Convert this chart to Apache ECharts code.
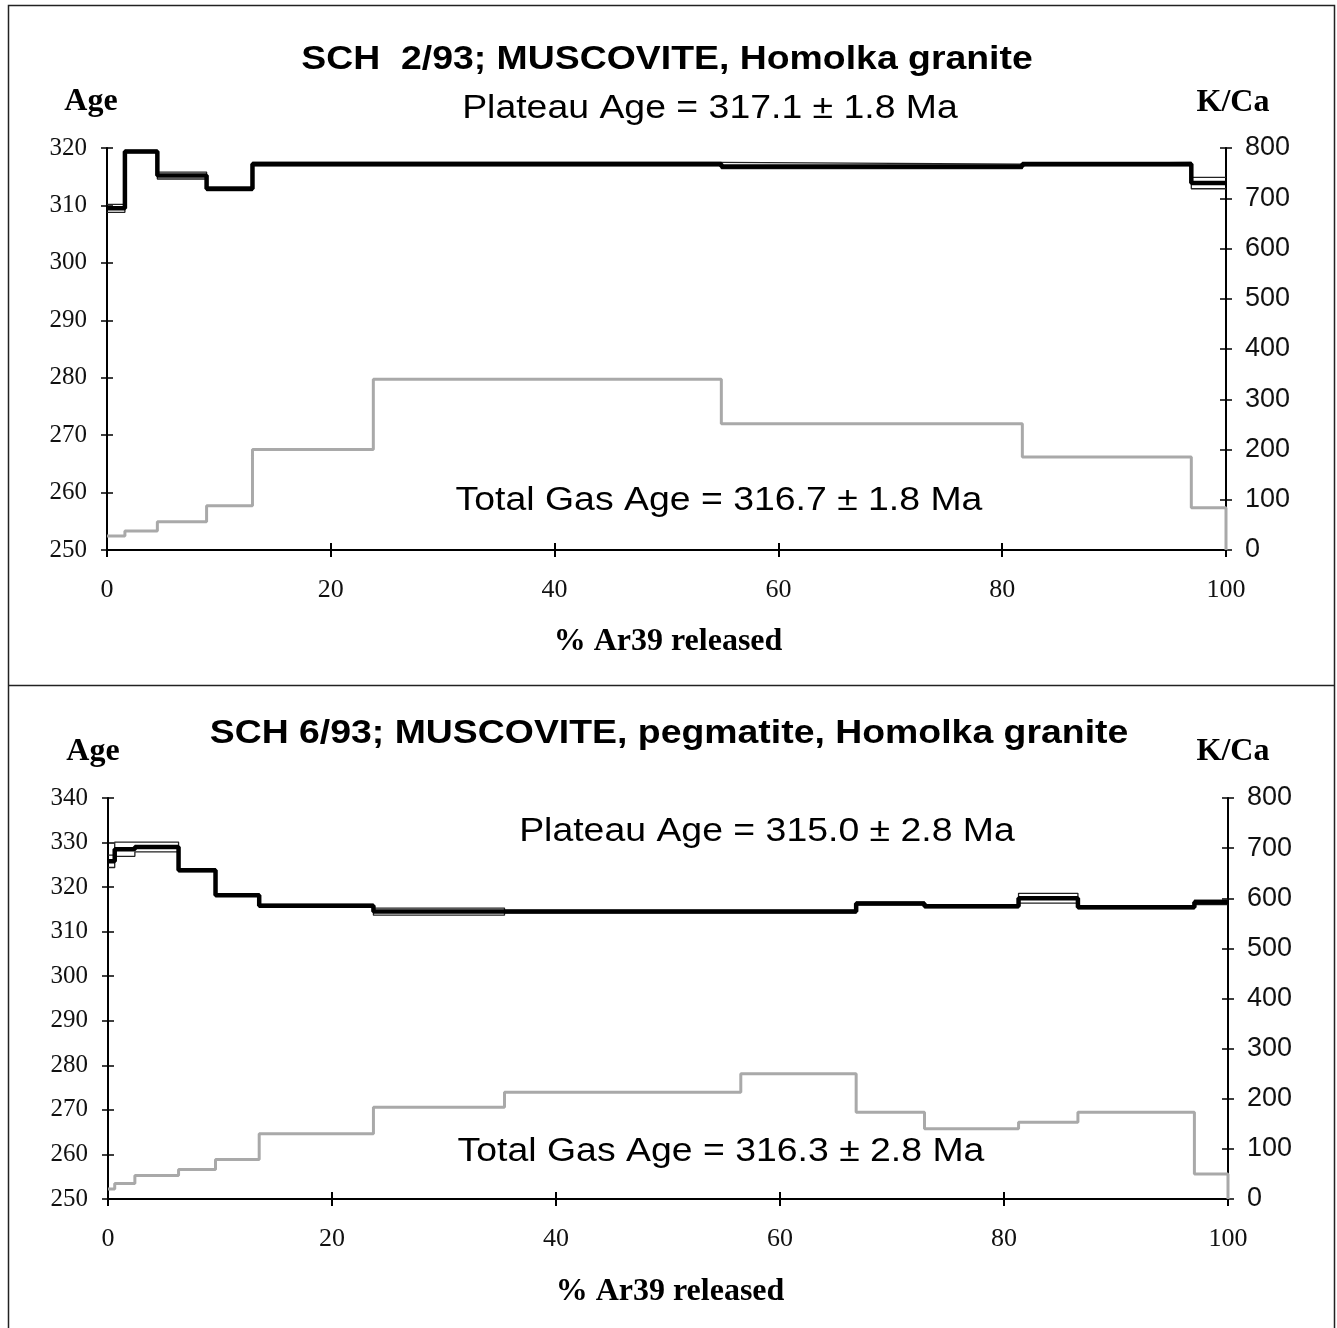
<!DOCTYPE html>
<html>
<head>
<meta charset="utf-8">
<script src="https://cdn.jsdelivr.net/npm/echarts@6/dist/echarts.min.js"></script>
<style>
  html, body { margin: 0; padding: 0; background: #fff; }
  #main { width: 1337px; height: 1328px; }
</style>
</head>
<body>
<div id="main"></div>
<script>
// SCH 2/93 - step boundaries (% Ar39 cumulative), ages (Ma), 1 sigma, K/Ca
var cumA = [0, 1.6, 4.5, 8.9, 13.0, 23.8, 54.9, 81.8, 96.9, 100];
var ageA = [309.5, 319.4, 315.2, 312.9, 317.2, 317.2, 316.8, 317.2, 313.9];
var errA = [0.7, 0.2, 0.6, 0.3, 0.3, 0.3, 0.4, 0.3, 1.0];
var kcaA = [28, 38, 56, 88, 200, 340, 251, 185, 84];

// SCH 6/93
var cumB = [0, 0.6, 2.4, 6.3, 9.6, 13.5, 23.7, 35.4, 56.5, 66.8, 72.9, 81.3, 86.6, 97.0, 100];
var ageB = [325.8, 328.5, 329.0, 323.8, 318.2, 315.8, 314.5, 314.5, 314.5, 316.3, 315.7, 317.5, 315.5, 316.6];
var errB = [1.4, 1.6, 1.1, 0.3, 0.3, 0.3, 0.8, 0.3, 0.3, 0.3, 0.3, 1.1, 0.3, 0.5];
var kcaB = [20, 31, 47, 59, 79, 130, 183, 213, 250, 173, 140, 153, 173, 50];

var chart = echarts.init(document.getElementById('main'));

// turn step values into points for a step:'end' line
function steps(cum, vals) {
  var d = vals.map(function (v, i) { return [cum[i], v]; });
  d.push([cum[cum.length - 1], vals[vals.length - 1]]);
  return d;
}

function ageSeries(cum, age, err, xi, yi) {
  var up = age.map(function (v, i) { return v + err[i]; });
  var lo = age.map(function (v, i) { return v - err[i]; });
  var base = { type: 'line', step: 'end', xAxisIndex: xi, yAxisIndex: yi, symbol: 'none', silent: true };
  return [
    Object.assign({}, base, { data: steps(cum, up), lineStyle: { color: '#222', width: 1.3 }, z: 3 }),
    Object.assign({}, base, { data: steps(cum, lo), lineStyle: { color: '#222', width: 1.3 }, z: 3 }),
    Object.assign({}, base, { data: steps(cum, age), lineStyle: { color: '#000', width: 4.5 }, z: 4 })
  ];
}

function kcaSeries(cum, kca, xi, yi) {
  var d = steps(cum, kca);
  d.push([cum[cum.length - 1], 0]);
  return {
    type: 'line', step: 'end', xAxisIndex: xi, yAxisIndex: yi, symbol: 'none', silent: true,
    data: d, lineStyle: { color: '#a9a9a9', width: 3 }, z: 2
  };
}

var serif = '"Liberation Serif", "Times New Roman", serif';
var sans = '"Liberation Sans", Arial, sans-serif';

function xAx(gi, inner) {
  return {
    type: 'value', gridIndex: gi, min: 0, max: 100, interval: 20,
    splitLine: { show: false },
    axisLine: { show: !inner, onZero: false, lineStyle: { color: '#000', width: 2 } },
    axisTick: { show: true, inside: inner, length: 7, lineStyle: { color: '#000', width: 2 } },
    axisLabel: { show: !inner, margin: 27, fontFamily: serif, fontSize: 26, color: '#111' }
  };
}

function yAx(gi, pos, min, max, interval, inner) {
  return {
    type: 'value', gridIndex: gi, position: pos, min: min, max: max, interval: interval,
    splitLine: { show: false },
    axisLine: { show: !inner, onZero: false, lineStyle: { color: '#000', width: 2 } },
    axisTick: { show: true, inside: inner, length: 6, lineStyle: { color: '#000', width: 1.5 } },
    axisLabel: {
      show: !inner, margin: pos === 'left' ? 20 : 19,
      fontFamily: pos === 'left' ? serif : sans, fontSize: pos === 'left' ? 25 : 27, color: '#111'
    }
  };
}

function txt(x, y, s, font, sx) {
  return { type: 'text', x: x, y: y, scaleX: sx || 1, silent: true,
    style: { text: s, font: font, fill: '#000', align: 'center', verticalAlign: 'middle' } };
}

var gridA = { left: 107, top: 148, width: 1119, height: 402, outerBoundsMode: 'none' };
var gridB = { left: 108, top: 798, width: 1120, height: 401, outerBoundsMode: 'none' };

var option = {
  animation: false,
  backgroundColor: '#fff',
  grid: [gridA, gridB, gridA, gridB],
  xAxis: [xAx(0, false), xAx(1, false), xAx(2, true), xAx(3, true)],
  yAxis: [
    yAx(0, 'left', 250, 320, 10, false),
    yAx(0, 'right', 0, 800, 100, false),
    yAx(1, 'left', 250, 340, 10, false),
    yAx(1, 'right', 0, 800, 100, false),
    yAx(2, 'left', 250, 320, 10, true),
    yAx(2, 'right', 0, 800, 100, true),
    yAx(3, 'left', 250, 340, 10, true),
    yAx(3, 'right', 0, 800, 100, true)
  ],
  series: [].concat(
    [kcaSeries(cumA, kcaA, 0, 1)],
    ageSeries(cumA, ageA, errA, 0, 0),
    [kcaSeries(cumB, kcaB, 1, 3)],
    ageSeries(cumB, ageB, errB, 1, 2)
  ),
  graphic: [
    { type: 'rect', silent: true, shape: { x: 8.5, y: 5.5, width: 1326, height: 1340 },
      style: { fill: 'none', stroke: '#222', lineWidth: 1.5 } },
    { type: 'line', silent: true, shape: { x1: 8.5, y1: 685.5, x2: 1334.5, y2: 685.5 },
      style: { stroke: '#222', lineWidth: 1.5 } },

    txt(667, 60, 'SCH  2/93; MUSCOVITE, Homolka granite', 'bold 34px ' + sans, 1.1),
    txt(710, 109, 'Plateau Age = 317.1 \u00b1 1.8 Ma', '34px ' + sans, 1.1),
    txt(719, 501, 'Total Gas Age = 316.7 \u00b1 1.8 Ma', '34px ' + sans, 1.1),
    txt(91, 102, 'Age', 'bold 32px ' + serif),
    txt(1233, 103, 'K/Ca', 'bold 32px ' + serif),
    txt(668, 642, '% Ar39 released', 'bold 32px ' + serif),

    txt(669, 734, 'SCH 6/93; MUSCOVITE, pegmatite, Homolka granite', 'bold 34px ' + sans, 1.1),
    txt(767, 832, 'Plateau Age = 315.0 \u00b1 2.8 Ma', '34px ' + sans, 1.1),
    txt(721, 1152, 'Total Gas Age = 316.3 \u00b1 2.8 Ma', '34px ' + sans, 1.1),
    txt(93, 752, 'Age', 'bold 32px ' + serif),
    txt(1233, 752, 'K/Ca', 'bold 32px ' + serif),
    txt(670, 1292, '% Ar39 released', 'bold 32px ' + serif)
  ]
};

chart.setOption(option);
</script>
</body>
</html>
